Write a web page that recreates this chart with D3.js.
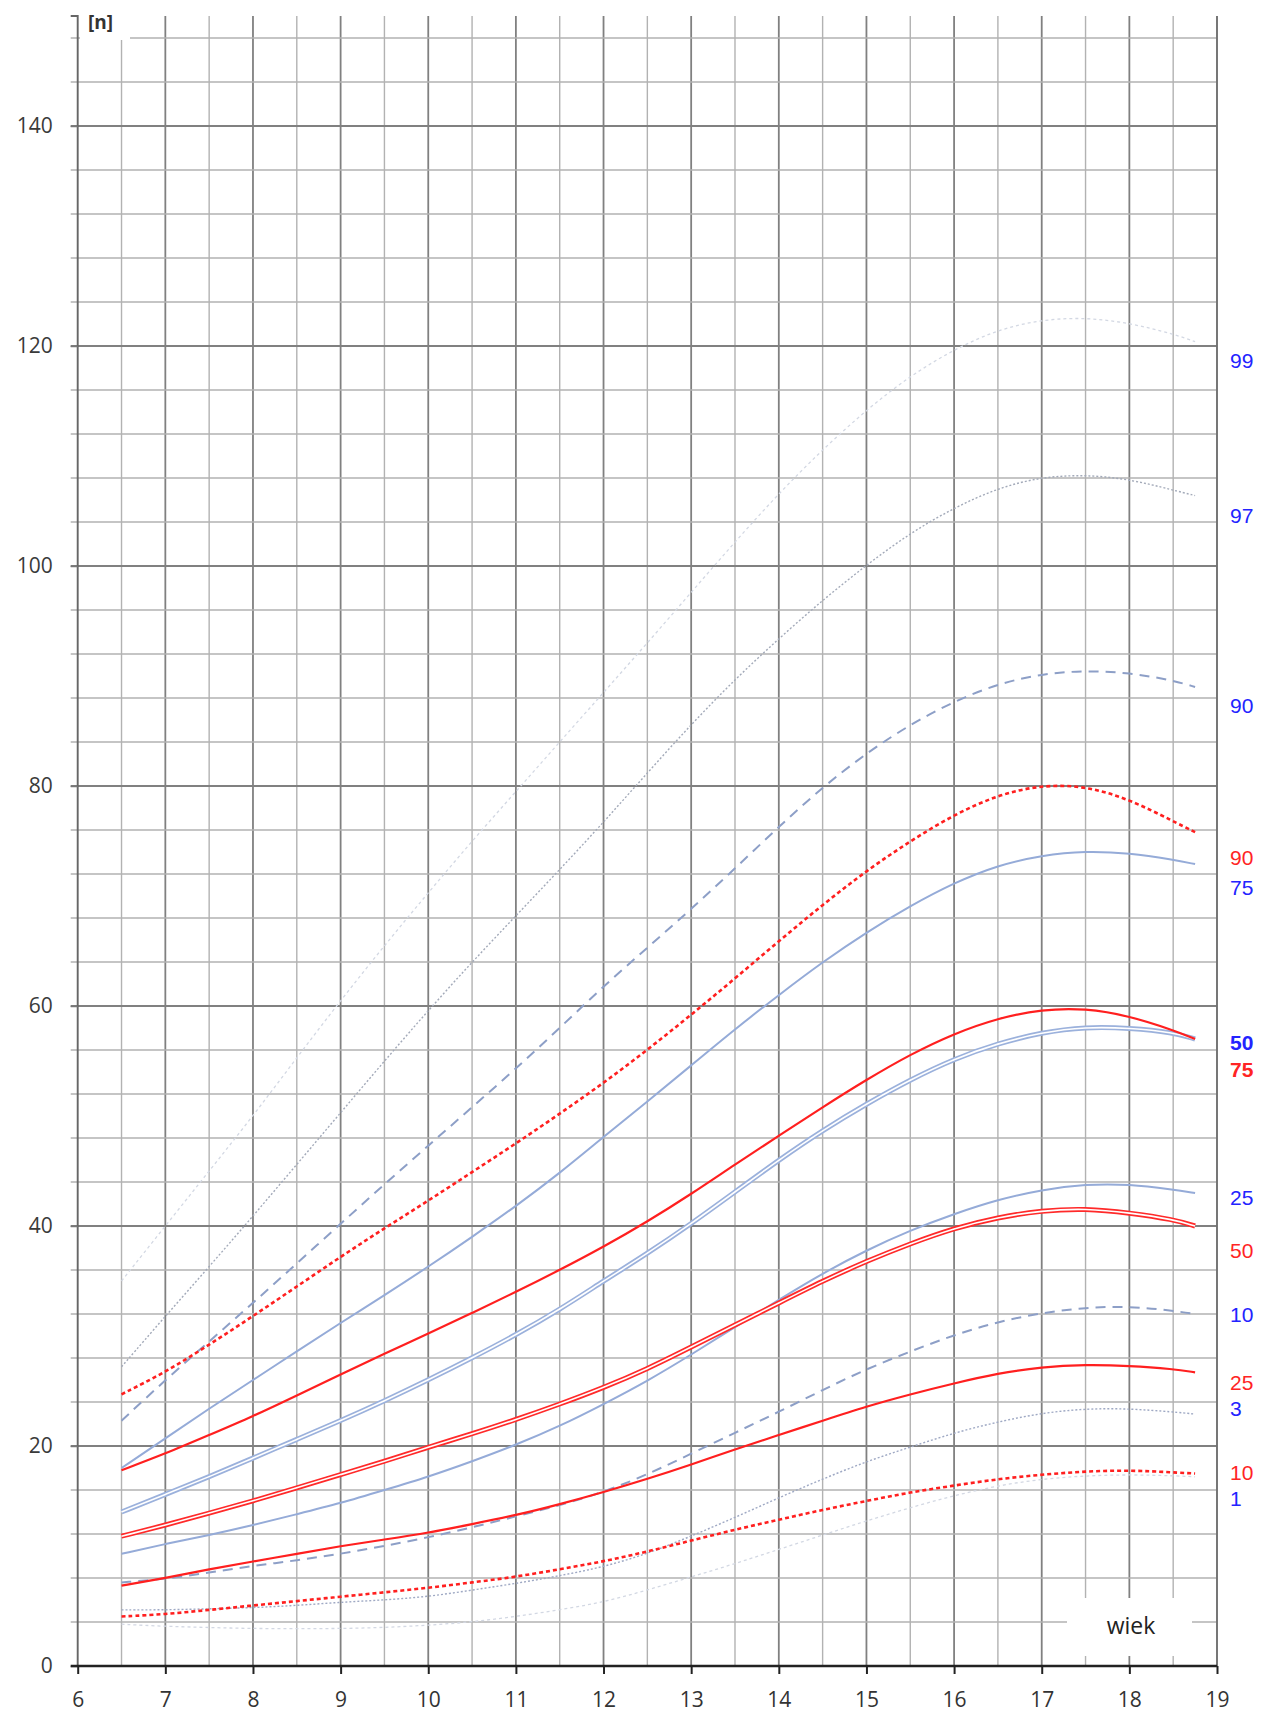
<!DOCTYPE html>
<html>
<head>
<meta charset="utf-8">
<script src="https://cdn.jsdelivr.net/npm/d3@7"></script>
<style>
  body { margin: 0; background: #fff; }
  svg { display: block; }
</style>
</head>
<body>
<div id="chartId"></div>
<script>

// ages (x) for all percentile curves
const ages = [6.5,7,7.5,8,8.5,9,9.5,10,10.5,11,11.5,12,12.5,13,13.5,14,14.5,15,15.5,16,16.5,17,17.5,18,18.5,18.75];

// blue percentile curves
const blue99 = [35,40,45,50,55.3,60.5,65.5,70.3,75,79.5,84,88.5,93,97.6,102.2,106.6,110.6,114.2,117.3,119.7,121.5,122.4,122.6,122.1,121.1,120.4];
const blue97 = [27.2,31.8,36.3,40.9,45.6,50.3,55,59.6,64,68.2,72.4,76.7,81.2,85.6,89.7,93.4,96.9,100.1,103,105.3,107.1,108.1,108.3,107.9,106.9,106.4];
const blue90 = [22.3,26,29.5,33,36.6,40.2,43.8,47.3,50.8,54.3,58,61.8,65.3,68.8,72.5,76.3,79.9,83,85.6,87.7,89.3,90.2,90.5,90.3,89.6,89];
const blue75 = [18,20.7,23.4,26,28.6,31.2,33.7,36.3,39,41.8,44.8,48.1,51.3,54.6,57.9,61,64,66.7,69.1,71.2,72.8,73.7,74.1,73.9,73.3,72.9];
const blue50 = [14,15.6,17.2,18.9,20.6,22.3,24.1,26,28,30.1,32.4,35,37.5,40.2,43.1,46,48.7,51.1,53.3,55.2,56.6,57.6,58.1,58,57.6,57];
const blue25 = [10.2,11.1,11.9,12.8,13.8,14.8,16,17.2,18.6,20.1,21.8,23.8,25.9,28.3,30.8,33.3,35.7,37.8,39.6,41.1,42.4,43.3,43.8,43.8,43.3,43];
const blue10 = [7.6,7.9,8.5,9.1,9.6,10.2,10.9,11.7,12.6,13.6,14.6,15.8,17.4,19.3,21.2,23.1,25.1,27,28.6,30.1,31.3,32.1,32.6,32.7,32.3,32];
const blue3  = [5.1,5.1,5.2,5.3,5.5,5.8,6,6.3,6.9,7.5,8.2,9,10.2,11.8,13.5,15.3,17,18.6,19.9,21.2,22.2,23,23.4,23.4,23.1,22.9];
const blue1  = [3.8,3.6,3.5,3.4,3.4,3.4,3.5,3.7,4,4.5,5.1,5.8,6.9,8.1,9.3,10.6,11.9,13.2,14.4,15.5,16.4,17,17.3,17.4,17.3,17.2];

// red percentile curves
const red90 = [24.7,26.7,29.2,31.8,34.5,37.2,39.8,42.3,44.9,47.5,50.2,53,56,59.2,62.5,65.9,69.2,72.3,75,77.4,79.2,80.1,80,78.8,76.8,75.8];
const red75 = [17.8,19.3,21,22.7,24.6,26.5,28.4,30.2,32.1,34,36,38.1,40.4,42.9,45.6,48.2,50.8,53.3,55.6,57.5,58.9,59.7,59.8,59.1,57.8,57];
const red50 = [11.8,12.8,13.9,15,16.2,17.4,18.6,19.9,21.1,22.4,23.8,25.3,27,29,31,33,35,36.8,38.4,39.8,40.8,41.4,41.6,41.2,40.6,40];
const red25 = [7.3,8,8.8,9.5,10.2,10.9,11.5,12.1,12.9,13.7,14.7,15.8,17,18.3,19.7,21,22.3,23.6,24.7,25.7,26.6,27.2,27.4,27.3,27,26.7];
const red10 = [4.5,4.7,5.1,5.5,5.9,6.3,6.7,7.1,7.6,8.1,8.8,9.5,10.4,11.4,12.4,13.3,14.2,15,15.8,16.4,17,17.4,17.7,17.8,17.6,17.5];

// percentile labels on the right, and the value where each one sits
const blueLabels = ['99','97','90','75','50','25','10','3','1'];
const blueLabelAt = [118.7,104.6,87.3,70.8,56.7,42.6,31.9,23.4,15.2];
const redLabels = ['90','75','50','25','10'];
const redLabelAt = [73.5,54.2,37.8,25.8,17.6];

// axis ticks
const xTicks = [6,7,8,9,10,11,12,13,14,15,16,17,18,19];
const yTicks = [0,20,40,60,80,100,120,140];

const W = 1267, H = 1713;
const x = d3.scaleLinear().domain([6, 19]).range([77.7, 1217]);
const y = d3.scaleLinear().domain([0, 150]).range([1666, 16]);

const svg = d3.select('#chartId').append('svg')
  .attr('width', W).attr('height', H)
  .style('background', '#fff');

const font = "'Open Sans', 'DejaVu Sans', sans-serif";

// grid: vertical every half year, horizontal every 4
const grid = svg.append('g');
d3.range(6.5, 19, 0.5).forEach(v => {
  const major = Number.isInteger(v);
  grid.append('line')
    .attr('x1', x(v)).attr('x2', x(v))
    .attr('y1', y(150)).attr('y2', y(0))
    .attr('stroke', major ? '#808080' : '#b2b2b2')
    .attr('stroke-width', major ? 1.8 : 1.4);
});
d3.range(4, 150, 4).forEach(v => {
  const major = v % 20 === 0;
  grid.append('line')
    .attr('x1', x(6) - 7).attr('x2', x(19))
    .attr('y1', y(v)).attr('y2', y(v))
    .attr('stroke', major ? '#808080' : '#b2b2b2')
    .attr('stroke-width', major ? 1.8 : 1.4);
});
// right border
grid.append('line')
  .attr('x1', x(19)).attr('x2', x(19))
  .attr('y1', y(150)).attr('y2', y(0))
  .attr('stroke', '#707070').attr('stroke-width', 1.9);

// y axis
const yAxis = d3.axisLeft(y).tickValues(yTicks).tickSize(7).tickPadding(18);
const gy = svg.append('g').attr('transform', `translate(${x(6)},0)`).call(yAxis);
gy.select('.domain').attr('stroke', '#666').attr('stroke-width', 1.9)
  .attr('d', `M-7,${y(150)}H0V${y(0)}`);
gy.selectAll('.tick line').attr('stroke', '#777').attr('stroke-width', 1.5);
gy.selectAll('.tick text').attr('fill', '#3a3a3a').style('font-family', font).style('font-size', '21px');

// x axis
const xAxis = d3.axisBottom(x).tickValues(xTicks).tickSize(8).tickPadding(18);
const gx = svg.append('g').attr('transform', `translate(0,${y(0)})`).call(xAxis);
gx.select('.domain').attr('stroke', '#222').attr('stroke-width', 2.4)
  .attr('d', `M${x(6) - 7},0H${x(19)}`);
gx.selectAll('.tick line').attr('stroke', '#222').attr('stroke-width', 2);
gx.selectAll('.tick text').attr('fill', '#333').style('font-family', font).style('font-size', '21px');

// [n] and wiek labels on white boxes
svg.append('rect').attr('x', 80).attr('y', 6).attr('width', 50).attr('height', 34).attr('fill', '#fff');
svg.append('text').attr('x', 88).attr('y', 29).text('[n]')
  .attr('fill', '#333').style('font-family', font).style('font-size', '19px').style('font-weight', 'bold');
svg.append('rect').attr('x', 1067).attr('y', 1598).attr('width', 125).attr('height', 58).attr('fill', '#fff');
svg.append('text').attr('x', 1131).attr('y', 1634).attr('text-anchor', 'middle').text('wiek')
  .attr('fill', '#222').style('font-family', font).style('font-size', '23px');

// curves
const line = d3.line().x(d => x(d[0])).y(d => y(d[1])).curve(d3.curveBasis);
const pts = vals => ages.map((a, i) => [a, vals[i]]);

const curves = svg.append('g').attr('fill', 'none');
function draw(vals, color, width, dash) {
  curves.append('path').attr('d', line(pts(vals)))
    .attr('stroke', color).attr('stroke-width', width)
    .attr('stroke-dasharray', dash || null)
    .attr('stroke-linecap', 'butt');
}
function drawDouble(vals, color) {
  draw(vals, color, 5);
  draw(vals, '#fff', 1.6);
}

draw(blue99, '#d3d8e3', 1.3, '3,3');
draw(blue1, '#d3d8e3', 1.3, '3,3');
draw(blue97, '#a3aab9', 1.4, '2,2');
draw(blue3, '#9fa9c4', 1.4, '2,2');
draw(blue90, '#8d9fc7', 2, '10,7');
draw(blue10, '#8d9fc7', 2, '10,7');
draw(blue75, '#95abd8', 2);
draw(blue25, '#95abd8', 2);
drawDouble(blue50, '#9bb1dc');

draw(red90, '#ff1f1f', 2.6, '4,3');
draw(red10, '#ff1f1f', 2.6, '4,3');
draw(red75, '#ff1f1f', 2.2);
draw(red25, '#ff1f1f', 2.2);
drawDouble(red50, '#ff2a2a');

// right-hand percentile labels
const lab = svg.append('g').style('font-family', "'Liberation Sans', Arial, sans-serif").style('font-size', '21px');
blueLabels.forEach((t, i) => {
  lab.append('text').attr('x', 1230).attr('y', y(blueLabelAt[i])).attr('dy', '0.35em')
    .attr('fill', '#2323ff').style('font-weight', t === '50' ? 'bold' : 'normal').text(t);
});
redLabels.forEach((t, i) => {
  lab.append('text').attr('x', 1230).attr('y', y(redLabelAt[i])).attr('dy', '0.35em')
    .attr('fill', '#ff2424').style('font-weight', t === '75' ? 'bold' : 'normal').text(t);
});

</script>
</body>
</html>
